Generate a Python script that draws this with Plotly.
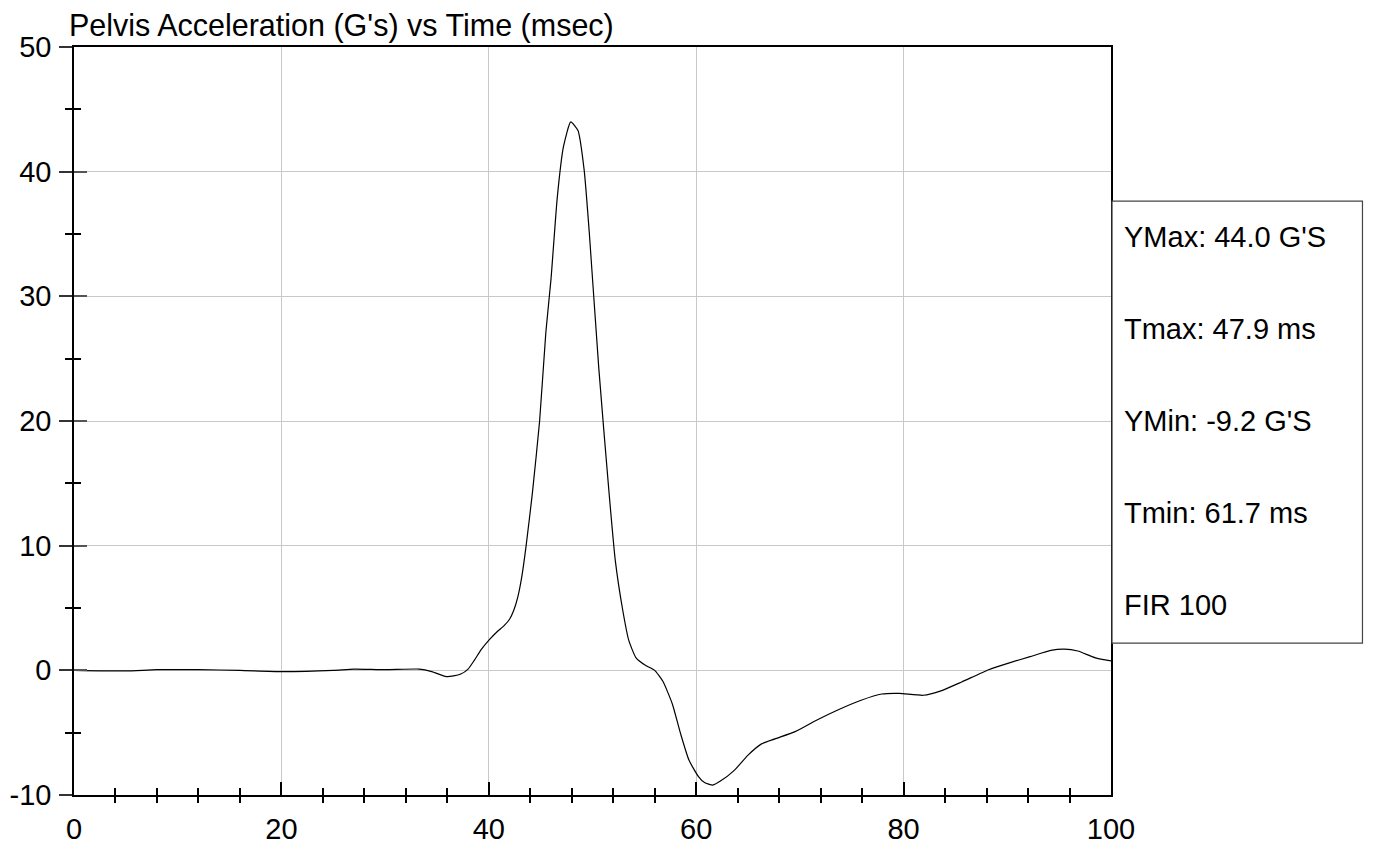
import plotly.graph_objects as go

# time (msec) and pelvis acceleration (G's)
time_ms = [0, 5, 8, 12, 16, 20, 25, 27, 30, 33.3, 34.5, 35.9, 36.6, 37.3, 38.0,
           38.6, 39.3, 40.1, 40.8, 41.5, 42.0, 42.4, 42.8, 43.2, 43.6, 44.2,
           44.9, 45.5, 46.0, 46.6, 47.2, 47.9, 48.6, 49.2, 49.7, 50.6, 51.6,
           52.2, 52.9, 53.5, 54.2, 55.1, 56.0, 56.8, 57.7, 58.5, 59.3, 60.2,
           60.8, 61.6, 62.3, 63.7, 65.0, 66.3, 67.6, 69.6, 71.6, 73.6, 75.9,
           77.9, 79.6, 81.9, 83.6, 85.6, 88.2, 90.2, 92.2, 94.2, 95.5, 96.8,
           98.5, 100]
accel_g = [0.0, -0.05, 0.05, 0.05, 0.0, -0.1, 0.0, 0.1, 0.05, 0.1, -0.1, -0.5,
           -0.45, -0.3, 0.1, 0.8, 1.7, 2.5, 3.1, 3.6, 4.1, 4.8, 5.9, 7.6, 10.0,
           14.2, 20.0, 27.1, 31.4, 37.9, 42.0, 44.0, 43.3, 40.1, 35.0, 24.3,
           14.2, 8.8, 4.9, 2.4, 1.0, 0.4, 0.0, -0.9, -2.7, -5.1, -7.2, -8.5,
           -9.0, -9.2, -8.9, -8.0, -6.8, -5.9, -5.5, -4.9, -4.0, -3.2, -2.4,
           -1.9, -1.85, -2.0, -1.65, -0.93, 0.05, 0.6, 1.1, 1.6, 1.7, 1.55,
           1.0, 0.75]

y_ticks = [-10, 0, 10, 20, 30, 40, 50]
y_tick_text = ["-10", "0", "10", "20", "30", "40", "50"]

stats_lines = ["YMax: 44.0 G'S", "Tmax: 47.9 ms", "YMin: -9.2 G'S",
               "Tmin: 61.7 ms", "FIR 100"]

FONT = "Liberation Sans, Arial, sans-serif"
GRID = "#c8c8c8"

fig = go.Figure()
fig.add_trace(go.Scatter(x=time_ms, y=accel_g, mode="lines",
                         line=dict(color="black", width=1.2, shape="spline", smoothing=0.5),
                         showlegend=False, hoverinfo="x+y"))
# invisible trace so the overlay axes (used for crossing ticks) get drawn
fig.add_trace(go.Scatter(x=time_ms, y=accel_g, xaxis="x2", yaxis="y2", mode="lines",
                         line=dict(width=0), opacity=0, showlegend=False, hoverinfo="skip"))

fig.update_layout(
    width=1374, height=846,
    margin=dict(l=74, r=263, t=47, b=51),
    paper_bgcolor="white", plot_bgcolor="white",
    font=dict(family=FONT, size=29, color="black"),
    xaxis=dict(range=[0, 100], dtick=20, tick0=0, showgrid=True, gridcolor=GRID, gridwidth=1,
               zeroline=False, showline=True, linecolor="black", linewidth=1.5, mirror=True,
               ticks="inside", ticklen=13, tickwidth=1.5, tickcolor="black",
               minor=dict(dtick=4, tick0=0, ticks="inside", ticklen=7, tickwidth=1.5,
                          tickcolor="black", showgrid=False),
               tickfont=dict(size=29), ticklabelstandoff=7, automargin=False),
    xaxis2=dict(range=[0, 100], overlaying="x", anchor="y", side="bottom",
                showgrid=False, zeroline=False, showticklabels=False, ticks="",
                minor=dict(dtick=4, tick0=0, ticks="outside", ticklen=7, tickwidth=1.5,
                           tickcolor="black", showgrid=False), automargin=False),
    yaxis=dict(range=[-10, 50], tickvals=y_ticks, ticktext=y_tick_text, showgrid=True,
               gridcolor=GRID, gridwidth=1,
               zeroline=False, showline=True, linecolor="black", linewidth=1.5, mirror=True,
               ticks="outside", ticklen=13, tickwidth=1.5, tickcolor="#333333",
               minor=dict(dtick=5, tick0=0, ticks="outside", ticklen=7, tickwidth=1.5,
                          tickcolor="black", showgrid=False),
               tickfont=dict(size=29), ticklabelstandoff=2, automargin=False),
    yaxis2=dict(range=[-10, 50], overlaying="y", anchor="x", side="left",
                showgrid=False, zeroline=False, showticklabels=False,
                ticks="inside", ticklen=13, tickwidth=1.5, tickcolor="#555555", dtick=10, tick0=0,
                minor=dict(dtick=5, tick0=0, ticks="inside", ticklen=7, tickwidth=1.5,
                           tickcolor="black", showgrid=False), automargin=False),
)

# title above the plot, left aligned
fig.add_annotation(text="Pelvis Acceleration (G's) vs Time (msec)", xref="paper", yref="paper",
                   x=-0.006, y=1.0, xanchor="left", yanchor="bottom", showarrow=False,
                   font=dict(size=30.5), yshift=2, xshift=-1)

# stats box on the right
fig.add_shape(type="rect", xref="paper", yref="paper", x0=1.001, x1=1.2425, y0=0.203, y1=0.794,
              line=dict(color="#444444", width=1.2), fillcolor="white")
for i, line in enumerate(stats_lines):
    fig.add_annotation(text=line, xref="paper", yref="paper", x=1.011, y=0.746 - i * 0.123,
                       xanchor="left", yanchor="middle", showarrow=False, font=dict(size=29))

# drop the browser's default body margin so the figure sits at the page corner
fig.write_html("out.html", config={"displayModeBar": False},
               post_script="document.body.style.margin='0';document.body.style.overflow='hidden';")
